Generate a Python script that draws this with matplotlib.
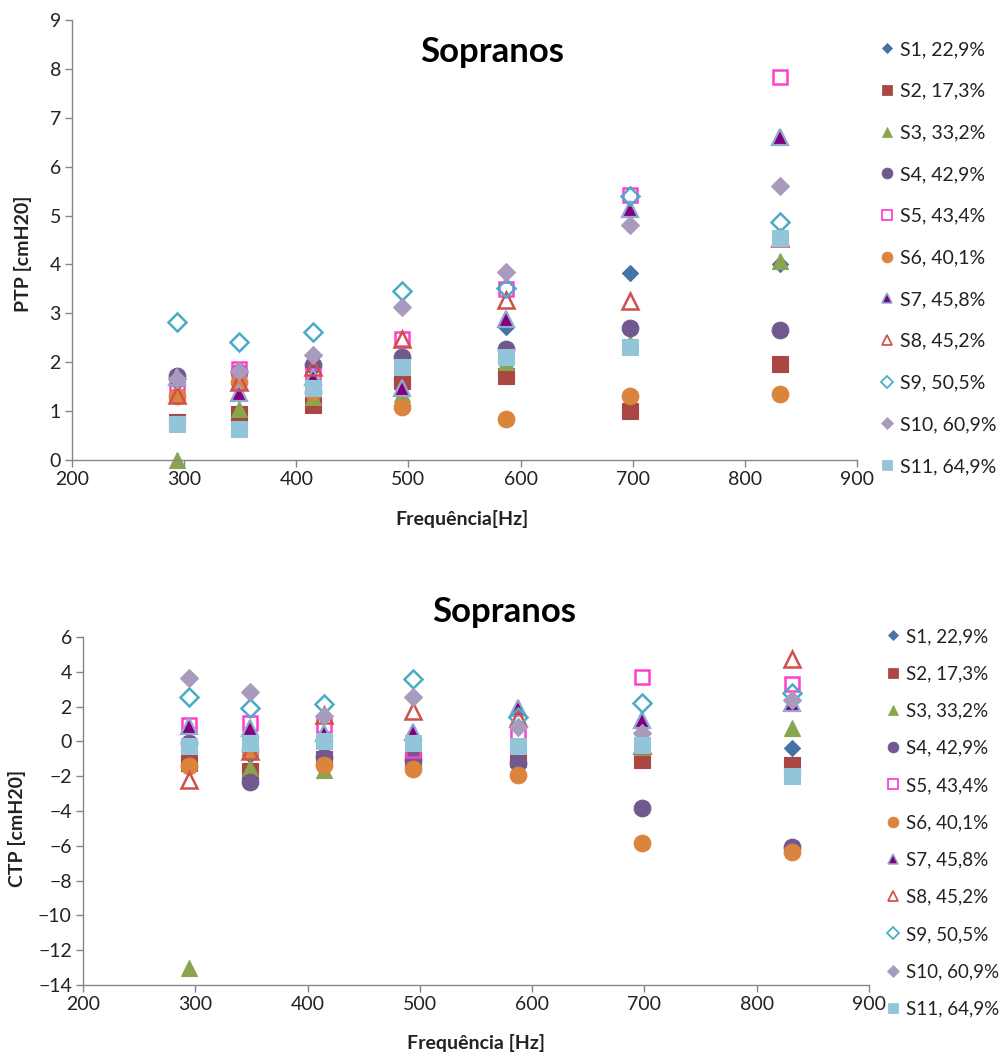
import matplotlib
matplotlib.use("Agg")
import matplotlib.pyplot as plt
from matplotlib.lines import Line2D

plt.rcParams['font.family'] = ['Lato', 'DejaVu Sans']

# Sung pitches (Hz)
freqs = [294, 349, 415, 494, 587, 698, 831]

labels = ["S1, 22,9%", "S2, 17,3%", "S3, 33,2%", "S4, 42,9%", "S5, 43,4%",
          "S6, 40,1%", "S7, 45,8%", "S8, 45,2%", "S9, 50,5%", "S10, 60,9%",
          "S11, 64,9%"]

# Phonation threshold pressure per subject (cmH2O)
ptp_s1 = [1.60, 1.75, 1.50, 1.60, 2.73, 3.82, 4.00]
ptp_s2 = [0.78, 0.94, 1.12, 1.62, 1.72, 1.01, 1.96]
ptp_s3 = [0.00, 1.04, 1.28, 1.35, 2.00, 2.40, 4.07]
ptp_s4 = [1.71, 1.80, 1.94, 2.10, 2.27, 2.69, 2.65]
ptp_s5 = [1.40, 1.86, 1.72, 2.47, 3.49, 5.43, 7.83]
ptp_s6 = [1.31, 1.59, 1.40, 1.08, 0.84, 1.31, 1.34]
ptp_s7 = [1.70, 1.38, 1.70, 1.48, 2.88, 5.14, 6.61]
ptp_s8 = [1.33, 1.60, 1.90, 2.47, 3.27, 3.25, 4.55]
ptp_s9 = [2.82, 2.41, 2.61, 3.46, 3.52, 5.41, 4.87]
ptp_s10 = [1.65, 1.82, 2.14, 3.12, 3.84, 4.80, 5.60]
ptp_s11 = [0.73, 0.63, 1.48, 1.91, 2.10, 2.32, 4.54]

# Collision threshold pressure per subject (cmH2O)
ctp_s1 = [-0.50, -0.80, -0.80, -0.80, -0.50, -0.30, -0.40]
ctp_s2 = [-1.26, -1.68, -1.00, -1.00, -1.00, -1.07, -1.36]
ctp_s3 = [-13.0, -1.53, -1.65, -1.00, -0.88, -0.30, 0.75]
ctp_s4 = [-0.10, -2.31, -0.88, -1.07, -1.26, -3.85, -6.05]
ctp_s5 = [0.94, 1.08, 0.94, -0.50, 0.46, 3.68, 3.30]
ctp_s6 = [-1.41, -0.50, -1.36, -1.60, -1.93, -5.82, -6.34]
ctp_s7 = [0.90, 0.75, 0.50, 0.56, 1.90, 1.23, 2.20]
ctp_s8 = [-2.22, -0.55, 1.50, 1.77, 1.35, -0.20, 4.72]
ctp_s9 = [2.57, 1.90, 2.15, 3.57, 1.42, 2.19, 2.80]
ctp_s10 = [3.63, 2.86, 1.46, 2.53, 0.81, 0.46, 2.38]
ctp_s11 = [-0.28, -0.07, 0.00, -0.11, -0.27, -0.21, -1.99]

ptp = [ptp_s1, ptp_s2, ptp_s3, ptp_s4, ptp_s5, ptp_s6, ptp_s7, ptp_s8,
       ptp_s9, ptp_s10, ptp_s11]
ctp = [ctp_s1, ctp_s2, ctp_s3, ctp_s4, ctp_s5, ctp_s6, ctp_s7, ctp_s8,
       ctp_s9, ctp_s10, ctp_s11]

# marker, face colour, edge colour, size, edge width
styles = [
    ("D", "#4572A7", "#4572A7", 8.5, 0.8),
    ("s", "#AA4643", "#AA4643", 11, 0.8),
    ("^", "#89A54E", "#89A54E", 12, 0.8),
    ("o", "#71588F", "#71588F", 12, 0.8),
    ("s", "none", "#FF3FD0", 10.5, 1.8),
    ("o", "#DB843D", "#DB843D", 12, 0.8),
    ("^", "#800080", "#93A9CF", 11, 1.6),
    ("^", "none", "#D0504D", 11, 1.8),
    ("D", "none", "#4BACC6", 9, 1.8),
    ("D", "#A99BBD", "#A99BBD", 9.5, 0.8),
    ("s", "#92C5DA", "#92C5DA", 11, 0.8),
]

axis_grey = "#868686"
text_col = "#222222"
W, H = 1000, 1057
fig = plt.figure(figsize=(W / 100, H / 100), dpi=100)


def fx(px):
    return px / W


def fy(py):
    return 1 - py / H


def px_rect(x0, y0, x1, y1):
    return [x0 / W, 1 - y1 / H, (x1 - x0) / W, (y1 - y0) / H]


def style_axis(ax, ylim, yticks):
    ax.set_xlim(200, 900)
    ax.set_ylim(*ylim)
    ax.set_xticks(range(200, 901, 100))
    ax.set_yticks(yticks)
    for side in ("top", "right"):
        ax.spines[side].set_visible(False)
    for side in ("left", "bottom"):
        ax.spines[side].set_color(axis_grey)
        ax.spines[side].set_linewidth(1.0)
    ax.tick_params(axis="both", direction="out", length=5, width=1.0,
                   color=axis_grey, labelsize=14, labelcolor=text_col,
                   pad=3)
    ax.patch.set_alpha(0)


def draw_series(ax, data):
    handles = []
    for vals, lab, (m, fc, ec, ms, mew) in zip(data, labels, styles):
        ax.plot(freqs, vals, linestyle="none", marker=m, markersize=ms,
                markerfacecolor=fc, markeredgecolor=ec, markeredgewidth=mew,
                clip_on=False)
        handles.append(Line2D([], [], linestyle="none", marker=m,
                              markersize=ms * 0.65, markerfacecolor=fc,
                              markeredgecolor=ec,
                              markeredgewidth=mew * 0.7, label=lab))
    return handles


# PTP panel
ax1 = fig.add_axes(px_rect(72, 20, 857, 460))
h1 = draw_series(ax1, ptp)
style_axis(ax1, (0, 9), range(0, 10))
fig.text(fx(492), fy(52), "Sopranos", ha="center", va="center",
         fontsize=25, fontweight="bold")
fig.text(fx(462), fy(519), "Frequência[Hz]", ha="center", va="center",
         fontsize=14, fontweight="bold", color=text_col)
fig.text(fx(23), fy(254), "PTP [cmH20]", ha="center", va="center",
         rotation=90, fontsize=14, fontweight="bold", color=text_col)
fig.legend(handles=h1, loc="upper left",
           bbox_to_anchor=(fx(879), fy(41)), frameon=False,
           fontsize=14, labelspacing=1.27, handlelength=0.8,
           handletextpad=0.3, borderaxespad=0, borderpad=0,
           labelcolor=text_col)

# CTP panel
ax2 = fig.add_axes(px_rect(83, 637, 869, 985))
h2 = draw_series(ax2, ctp)
style_axis(ax2, (-14, 6), range(-14, 7, 2))
fig.text(fx(504), fy(612), "Sopranos", ha="center", va="center",
         fontsize=25, fontweight="bold")
fig.text(fx(476), fy(1043), "Frequência [Hz]", ha="center", va="center",
         fontsize=14, fontweight="bold", color=text_col)
fig.text(fx(17), fy(828), "CTP [cmH20]", ha="center", va="center",
         rotation=90, fontsize=14, fontweight="bold", color=text_col)
fig.legend(handles=h2, loc="upper left",
           bbox_to_anchor=(fx(885), fy(628)), frameon=False,
           fontsize=13.5, labelspacing=1.08, handlelength=0.8,
           handletextpad=0.3, borderaxespad=0, borderpad=0,
           labelcolor=text_col)

fig.savefig("out.png", dpi=100)
